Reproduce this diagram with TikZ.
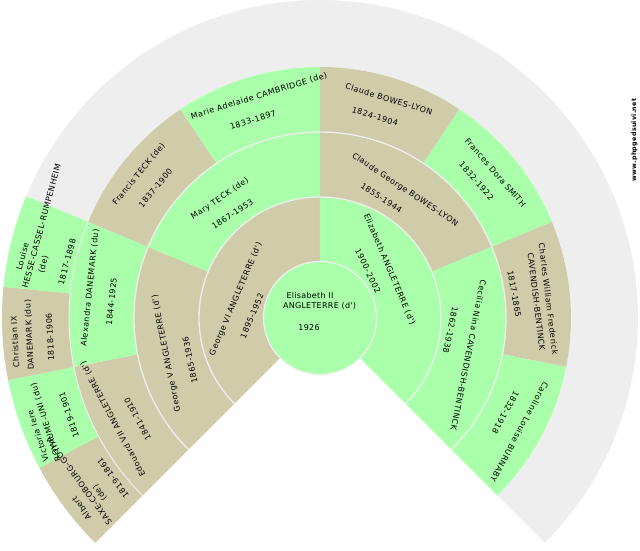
\documentclass[tikz,border=0pt]{standalone}
\usepackage{fontspec}
\setmainfont{DejaVu Sans}
\newfontfamily\lblfont[LetterSpace=6.3]{DejaVu Sans}
\newfontfamily\flatfont[LetterSpace=3.5]{DejaVu Sans}
\newfontfamily\sidefont[LetterSpace=5]{DejaVu Sans Bold}
\definecolor{khaki}{HTML}{D0CCAA}
\definecolor{mint}{HTML}{AAFFAA}
\definecolor{pale}{HTML}{EEEEEE}
\newcommand{\seg}[5]{% fill, r1, r2, a1, a2
  \fill[#1] (#4:#2) arc[start angle=#4,end angle=#5,radius=#2] -- (#5:#3) arc[start angle=#5,end angle=#4,radius=#3] -- cycle;}
\newcommand{\lab}[5]{% name,x,y,rot,text (pixels in the image)
  \node[lbl,rotate=#4] (#1) at (#2-320,318-#3) {#5};}
\tikzset{
  lbl/.style={inner sep=0pt,font=\lblfont\fontsize{8}{9}\selectfont},
  ringline/.style={draw=pale,line width=1.3pt},
  x=1pt,y=1pt
}
\begin{document}
\begin{tikzpicture}
\useasboundingbox (-320,-232) rectangle (320,318);
\seg{pale}{251}{318}{225}{-45}
\seg{khaki}{251}{318}{225}{208.125}
\seg{mint}{251}{318}{208.125}{191.25}
\seg{khaki}{251}{318}{191.25}{174.375}
\seg{mint}{251}{318}{174.375}{157.5}
\seg{khaki}{186}{251}{225}{191.25}
\seg{mint}{186}{251}{191.25}{157.5}
\seg{khaki}{186}{251}{157.5}{123.75}
\seg{mint}{186}{251}{123.75}{90}
\seg{khaki}{186}{251}{90}{56.25}
\seg{mint}{186}{251}{56.25}{22.5}
\seg{khaki}{186}{251}{22.5}{-11.25}
\seg{mint}{186}{251}{-11.25}{-45}
\seg{khaki}{121}{186}{225}{157.5}
\seg{mint}{121}{186}{157.5}{90}
\seg{khaki}{121}{186}{90}{22.5}
\seg{mint}{121}{186}{22.5}{-45}
\seg{khaki}{56}{121}{225}{90}
\seg{mint}{56}{121}{90}{-45}
\draw[ringline,line width=1pt] (225:251) arc[start angle=225,end angle=157.5,radius=251];
\draw[ringline] (225:186) arc[start angle=225,end angle=-45,radius=186];
\draw[ringline] (225:121) arc[start angle=225,end angle=-45,radius=121];
\draw[ringline,fill=mint] (0,0) circle[radius=56.5];
% centre
\lab{a1}{310}{296}{0}{\flatfont Elisabeth II}
\lab{a2}{319.5}{306}{0}{\flatfont ANGLETERRE (d')}
\lab{a3}{309}{328}{0}{\flatfont 1926}
% generation 1
\lab{b1}{389.5}{269.5}{-67}{Elizabeth ANGLETERRE (d')}
\lab{b2}{368}{271}{-64}{1900-2002}
\lab{c1}{236}{299}{67}{George VI ANGLETERRE (d')}
\lab{c2}{252}{316}{67}{1895-1952}
% generation 2
\lab{d1}{220}{199}{33.7}{Mary TECK (de)}
\lab{d2}{232.5}{214}{33.7}{1867-1953}
\lab{e1}{405}{190}{-33.7}{Claude George BOWES-LYON}
\lab{e2}{381.5}{198}{-33.7}{1855-1944}
\lab{f1}{166.5}{353.5}{101.25}{George V ANGLETERRE (d')}
\lab{f2}{190}{360}{101.25}{1865-1936}
\lab{g1}{468.5}{355}{-101.25}{Cecilia Nina CAVENDISH-BENTINCK}
\lab{g2}{450.5}{330}{-101.25}{1862-1938}
% generation 3
\lab{h1}{259}{96}{17}{Marie Adelaide CAMBRIDGE (de)}
\lab{h2}{253}{120}{17}{1833-1897}
\lab{i1}{389}{99}{-17}{Claude BOWES-LYON}
\lab{i2}{375}{116.5}{-17}{1824-1904}
\lab{j1}{495.5}{172.5}{-49}{Frances Dora SMITH}
\lab{j2}{476.5}{181}{-49}{1832-1922}
\lab{k1}{548.5}{299}{-83}{Charles William Frederick}
\lab{k2}{536.5}{302}{-83}{CAVENDISH-BENTINCK}
\lab{k3}{514.5}{294}{-80}{1817-1865}
\lab{l1}{519.5}{432}{-118.5}{Caroline Louise BURNABY}
\lab{l2}{505.5}{412.5}{-118.5}{1832-1918}
\lab{m1}{139}{174}{50.6}{Francis TECK (de)}
\lab{m2}{155.5}{188}{50.6}{1837-1900}
\lab{n1}{90}{288}{84}{Alexandra DANEMARK (du)}
\lab{n2}{111.5}{301.5}{84}{1844-1925}
\lab{o1}{113}{419}{118}{Edouard VII ANGLETERRE (d')}
\lab{o2}{137.5}{419}{118}{1841-1910}
% generation 4
\lab{p1}{22.5}{256.5}{75}{Louise}
\lab{p2}{41.5}{226}{75}{HESSE-CASSEL-RUMPENHEIM}
\lab{p3}{43.5}{264.5}{75}{(de)}
\lab{p4}{67}{262}{75}{1817-1898}
\lab{q1}{15}{342}{93}{Christian IX}
\lab{q2}{29.5}{335}{93}{DANEMARK (du)}
\lab{q3}{50}{337}{93}{1818-1906}
\lab{r1}{38}{436}{108}{Victoria Iere}
\lab{r2}{46}{422}{108}{ROYAUME-UNI (du)}
\lab{r3}{69}{415}{108}{1819-1901}
\lab{s1}{81.5}{508}{126}{Albert}
\lab{s2}{79}{481}{126}{SAXE-COBOURG-GOTHA}
\lab{s3}{100}{493}{126}{(de)}
\lab{s4}{113}{478}{126}{1819-1861}
\lab{w}{634.5}{140}{90}{\sidefont\fontsize{6.3}{8}\selectfont www.phpgedsuivi.net}
\end{tikzpicture}
\end{document}
